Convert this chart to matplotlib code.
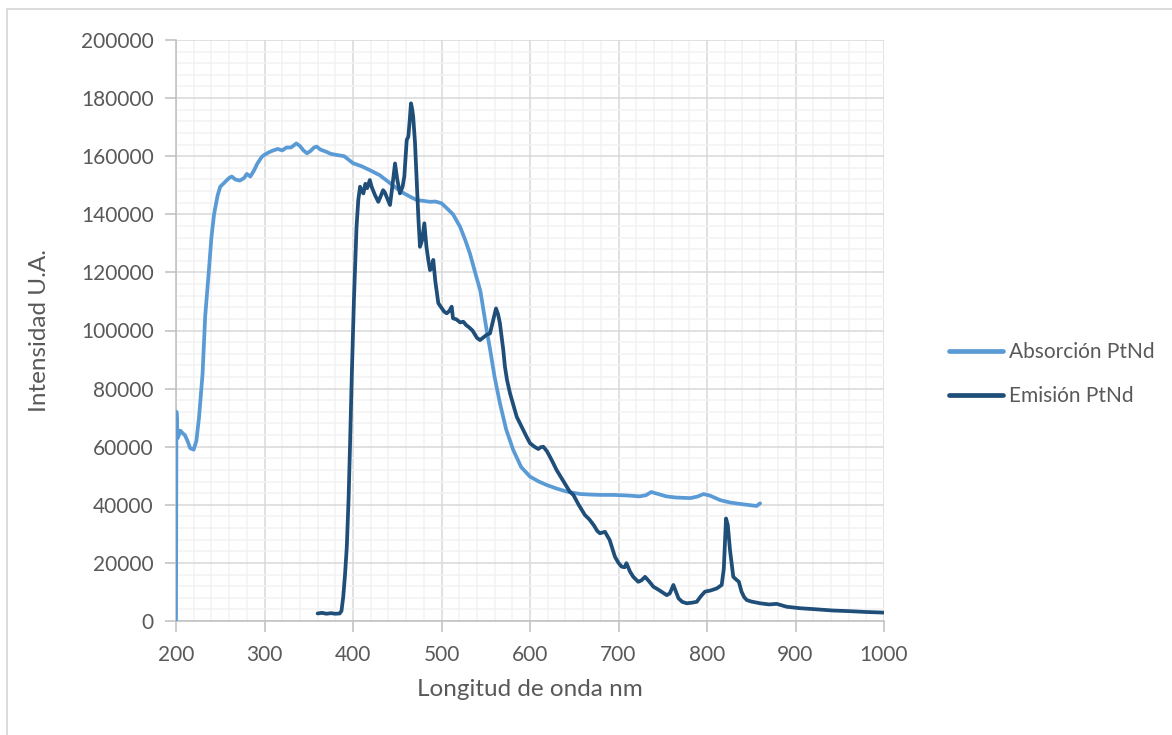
import matplotlib
matplotlib.use("Agg")
import matplotlib.pyplot as plt
from matplotlib.patches import Rectangle
from matplotlib.ticker import MultipleLocator

plt.rcParams['font.family'] = ['Lato', 'DejaVu Sans']

# Absorption spectrum (wavelength nm, intensity a.u.)
abs_nm = [200, 200.5, 202, 205, 208, 210, 213, 216, 220, 223, 226, 230, 233, 237, 240,
          243, 247, 250, 255, 260, 263, 267, 272, 277, 280, 284, 288, 292, 297, 300,
          306, 310, 315, 320, 325, 330, 336, 340, 344, 348, 352, 356, 359, 363, 370,
          375, 382, 390, 400, 410, 419, 430, 442, 450, 457, 465, 472, 480, 487, 493,
          500, 506, 513, 521, 527, 532, 538, 544, 551, 555, 560, 566, 573, 581, 590,
          600, 610, 619, 630, 642, 657, 670, 680, 694, 710, 724, 731, 737, 745, 754,
          765, 781, 789, 796, 803, 815, 826, 837, 848, 856, 860]
abs_val = [0, 72000, 63000, 65500, 64500, 64000, 62000, 59500, 59000, 62000, 70000, 85000,
           105000, 120000, 132000, 140000, 146500, 149500, 151000, 152500, 153000, 152000,
           151600, 152500, 153900, 153000, 155000, 157500, 159800, 160500, 161500, 162000,
           162500, 162000, 163000, 163000, 164400, 163500, 162000, 161000, 161800, 163000,
           163300, 162300, 161500, 160800, 160400, 160000, 157600, 156500, 155200, 153500,
           150700, 148800, 147300, 146000, 144900, 144600, 144300, 144400, 143800, 142100,
           140000, 135700, 131000, 126600, 120000, 113500, 100200, 93300, 84000, 75000,
           66000, 58900, 53000, 49700, 48000, 46800, 45600, 44500, 43700, 43500, 43400,
           43400, 43200, 42900, 43300, 44400, 43700, 42900, 42500, 42300, 42800, 43700,
           43200, 41600, 40800, 40300, 39900, 39600, 40500]

# Emission spectrum (wavelength nm, intensity a.u.)
emi_nm = [360, 365, 370, 375, 380, 385, 387, 389, 391, 393, 395, 396.6, 398.5, 401, 404,
          406, 408, 410, 411.7, 414, 416, 419, 421, 422.6, 425, 428.6, 431, 434, 436, 438,
          440, 441.8, 444, 447.5, 450, 453, 456, 458, 460.7, 462.5, 464, 465.5, 467, 468,
          470, 472, 474, 475.7, 478, 480.6, 483, 485, 487, 489, 490.7, 493, 496.4, 500,
          503, 505.9, 509, 511.5, 513, 517, 521, 524.7, 528, 530.4, 535, 540, 543.5, 548,
          551, 554.8, 558, 561.6, 564, 566, 568, 569.8, 571.7, 574, 577.4, 581, 585, 589,
          592.4, 596, 600, 605, 609.4, 612, 615, 619, 622.6, 626, 630, 634, 638, 641.5,
          645, 649, 655, 662, 667, 672, 676, 679, 684.7, 690, 696, 700, 703.6, 707, 709,
          713, 716.7, 722.3, 726, 730, 735, 739.4, 745, 750, 754.5, 758, 762, 765, 767.8,
          772, 777, 783, 788.4, 793, 797.7, 804, 811, 816.6, 819, 821.5, 823.5, 826, 829.7,
          833.6, 836, 839, 842, 845, 850, 860, 870, 878.8, 890, 905, 920, 942.7, 960, 980,
          999]
emi_val = [2600, 2800, 2500, 2700, 2500, 2600, 3500, 8400, 16000, 25600, 42000, 60000,
           83000, 110000, 135700, 145000, 149500, 148000, 147200, 150500, 149000, 151800,
           149500, 148300, 146500, 144300, 146000, 148300, 147500, 146000, 144500, 143200,
           148500, 157500, 152000, 147200, 149500, 153000, 165600, 166700, 172000, 178200,
           176000, 173600, 165000, 151800, 138000, 128800, 131000, 136900, 128800, 124500,
           120800, 121500, 124300, 117000, 109400, 107800, 106500, 105900, 106800, 108200,
           104200, 103800, 102800, 103000, 101800, 101300, 100000, 97500, 96700, 97800,
           98500, 99000, 103000, 107600, 105500, 102500, 97500, 93300, 87500, 83000, 78400,
           74500, 70300, 67800, 65700, 63500, 61200, 60000, 59200, 59800, 60000, 58500,
           56500, 54500, 52000, 50000, 48000, 46200, 44500, 43400, 40000, 36500, 35000,
           33000, 31000, 30200, 30700, 27900, 22100, 20000, 18700, 18500, 19900, 17000,
           15200, 13500, 14000, 15200, 13500, 11800, 10800, 9800, 8900, 9500, 12400, 10000,
           7800, 6600, 6100, 6300, 6600, 8500, 10100, 10500, 11200, 12400, 18000, 35300,
           33000, 24400, 15200, 14100, 13500, 10100, 8200, 7200, 6700, 6100, 5700, 5900,
           4900, 4400, 4100, 3600, 3400, 3100, 2900]

abs_label = "Absorción PtNd"
emi_label = "Emisión PtNd"
x_title = "Longitud de onda nm"
y_title = "Intensidad U.A."

text_color = "#595959"
fig = plt.figure(figsize=(11.72, 7.35), dpi=100)
ax = fig.add_axes([176 / 1172, 1 - 621 / 735, (884 - 176) / 1172, (621 - 40) / 735])

# chart frame
fig.patches.append(Rectangle((7 / 1172, -0.05), 1.2, 1 - 9 / 735 + 0.05,
                             transform=fig.transFigure, fill=False,
                             edgecolor="#D9D9D9", linewidth=1.3, zorder=0))

ax.plot(abs_nm, abs_val, color="#5B9BD5", lw=2.7, label=abs_label,
        solid_capstyle="round", solid_joinstyle="round", zorder=3)
ax.plot(emi_nm, emi_val, color="#1F4E79", lw=2.7, label=emi_label,
        solid_capstyle="round", solid_joinstyle="round", zorder=4)

ax.set_xlim(200, 1000)
ax.set_ylim(0, 200000)
ax.xaxis.set_major_locator(MultipleLocator(100))
ax.xaxis.set_minor_locator(MultipleLocator(20))
ax.yaxis.set_major_locator(MultipleLocator(20000))
ax.yaxis.set_minor_locator(MultipleLocator(4000))

ax.grid(which="major", color="#D9D9D9", lw=1.1, zorder=1)
ax.grid(which="minor", color="#F2F2F2", lw=1.1, zorder=0.5)
ax.set_axisbelow(True)

for s in ("top", "right"):
    ax.spines[s].set_visible(False)
for s in ("left", "bottom"):
    ax.spines[s].set_color("#BFBFBF")
    ax.spines[s].set_linewidth(1.1)

ax.tick_params(which="major", length=8, width=1.1, color="#BFBFBF",
               labelcolor=text_color, labelsize=15)
ax.tick_params(axis="y", pad=8)
ax.tick_params(axis="x", pad=9)
ax.tick_params(which="minor", length=0)

ax.set_xlabel(x_title, fontsize=17.5, color=text_color, labelpad=10)
ax.set_ylabel(y_title, fontsize=17.5, color=text_color, labelpad=22)

leg = ax.legend(loc="center left", bbox_to_anchor=(930 / 1172, 1 - 374 / 735),
                bbox_transform=fig.transFigure, frameon=False, fontsize=15,
                handlelength=2.6, handletextpad=0.3, labelspacing=1.15,
                labelcolor=text_color)
for h in leg.get_lines():
    h.set_linewidth(3.4)

fig.savefig("out.png", dpi=100, facecolor="white")
